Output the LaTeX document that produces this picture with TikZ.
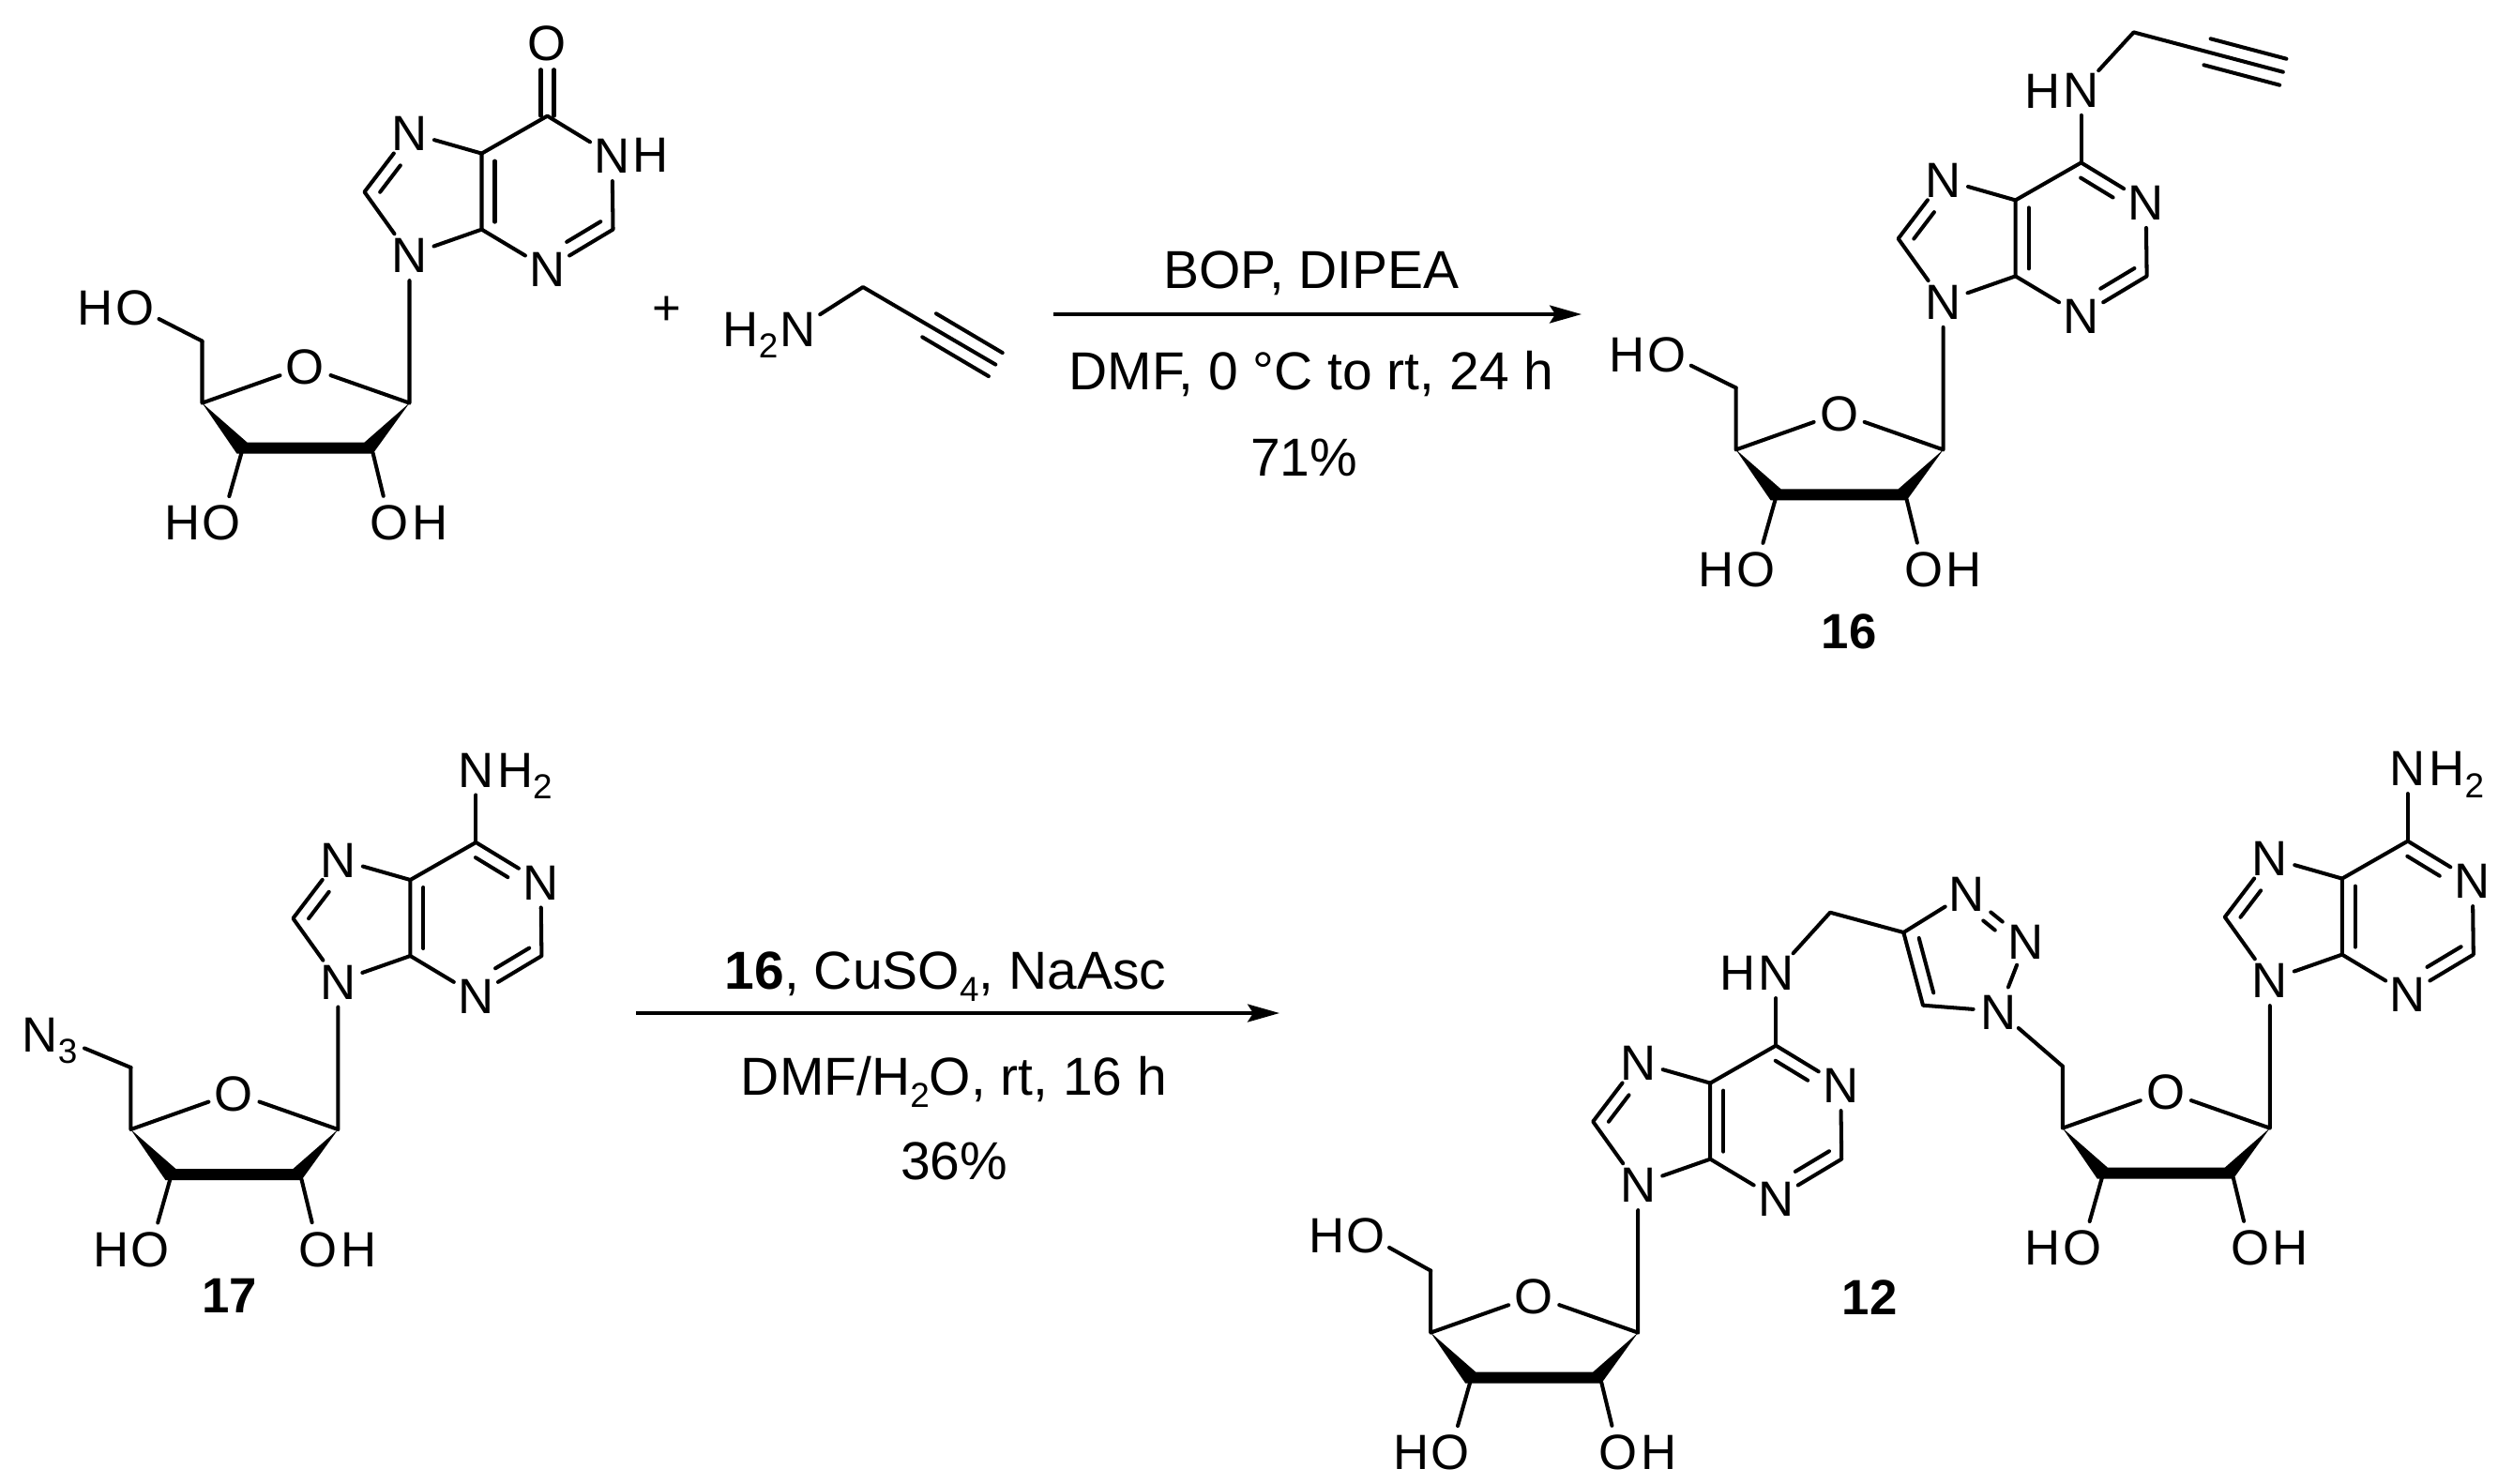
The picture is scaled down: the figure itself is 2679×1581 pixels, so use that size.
\documentclass[tikz,border=0pt]{standalone}
\usepackage{fontspec}
\setmainfont{Liberation Sans}
\usetikzlibrary{arrows.meta}
\newcommand{\sub}[1]{\raisebox{-3.6pt}{\fontsize{10.5}{12}\selectfont #1}}
\newcommand{\adbonds}[1]{
	\draw[dbl={(-7.3,12)},shorten <=.08cm,shorten >=.05cm] (#1-c6) -- (#1-n1);
	\draw[bond] (#1-x6) -- (#1-c6);
}
\tikzset{
	bond/.style={line width=1.15pt,line cap=round,line join=round},
	dbl/.style={bond,transform canvas={shift={#1}}},
	atom/.style={circle,inner sep=0pt,text height=10.8pt,text depth=0pt,font=\fontsize{15}{15}\selectfont},
	txt/.style={inner sep=0pt,text height=10.8pt,text depth=0pt,font=\fontsize{15}{15}\selectfont},
	cond/.style={txt,text height=11.6pt,font=\fontsize{16.2}{16.2}\selectfont},
	rxn/.style={line width=1pt,-{Stealth[length=.34cm,width=.19cm,inset=.06cm]}},
	nucleoside/.pic={
		\node[atom] (-n9) at (0,0) {N};
		\node[atom] (-n7) at (0,-130) {N};
		\node[atom] (-n1) at (216,-106) {N};
		\node[atom] (-n3) at (147,15) {N};
		\node[atom] (-x6) at (147,-226) {\tikzpictext};
		\coordinate (-c4) at (77,-27);
		\coordinate (-c5) at (77,-108);
		\coordinate (-c6) at (147,-148);
		\coordinate (-c8) at (-48,-67);
		\coordinate (-c2) at (217,-27);
		\draw[bond] (-n9) -- (-c4) -- (-c5) -- (-n7) -- (-c8) -- (-n9);
		\draw[bond] (-c5) -- (-c6) -- (-n1) -- (-c2) -- (-n3) -- (-c4);
		\draw[dbl={(14,0)},shorten <=.08cm,shorten >=.08cm] (-c4) -- (-c5);
		\draw[dbl={(10.6,8.1)},shorten <=.1cm,shorten >=.06cm] (-c8) -- (-n7);
		\draw[dbl={(-7.2,-12)},shorten <=.07cm,shorten >=.05cm] (-c2) -- (-n3);
		% sugar
		\node[atom] (-o4) at (-111,119) {O};
		\coordinate (-c1p) at (0,158);
		\coordinate (-c4p) at (-221,158);
		\coordinate (-c5p) at (-221,92);
		\coordinate (-c3p) at (-179,211);
		\coordinate (-c2p) at (-39,211);
		\draw[bond] (-n9) -- (-c1p) -- (-o4) -- (-c4p) -- (-c5p);
		\fill (-c4p) -- (-173,200) -- (-48,200) -- (-c1p) -- (-39,212) -- (-184,212) -- cycle;
		\node[atom] (-o3) at (-200,285) {O};
		\node[atom] (-h3) at (-242,285) {H};
		\node[atom] (-o2) at (-21,285) {O};
		\node[atom] (-h2) at (22,285) {H};
		\draw[bond] (-c3p) -- (-o3);
		\draw[bond] (-c2p) -- (-o2);
	}
}
\begin{document}
\begin{tikzpicture}[x=.01cm,y=-.01cm]
	\useasboundingbox (0,0) rectangle (2679,1581);
	% inosine
	\pic[pic text=O] (ino) at (436.5,271.6) {nucleoside};
	\draw[dbl={(-7,0)}] (ino-x6) -- (ino-c6);
	\draw[dbl={(7,0)}] (ino-x6) -- (ino-c6);
	\node[atom] (inoh) at (694,165) {H};
	\node[atom] (inoo5) at (144,327) {O};
	\node[atom] (inoh5) at (102,327) {H};
	\draw[bond] (ino-c5p) -- (inoo5);

	\node[txt] (plus) at (711,327) {+};

	% propargylamine
	\node[atom] (pan) at (851,350) {N};
	\node[txt,anchor=east] (pah) at (830,350) {H\sub{2}};
	\coordinate (pac) at (920,306);
	\coordinate (pat) at (990.6,346.8);
	\coordinate (pae) at (1061.3,388.6);
	\draw[bond] (pan) -- (pac) -- (pae);
	\draw[dbl={(7.4,-12.5)}] (pat) -- (pae);
	\draw[dbl={(-7.4,12.5)}] (pat) -- (pae);

	\coordinate (ara) at (1123,335);
	\coordinate (arb) at (1686,335);
	\draw[rxn] (ara) -- (arb);
	\node[cond] (bop) at (1398,287) {BOP, DIPEA};
	\node[cond] (dmf) at (1398,395) {DMF, 0 °C to rt, 24 h};
	\node[cond] (yielda) at (1390,487) {71\%};

	% 16
	\pic[pic text=N] (prg) at (2071.6,321.4) {nucleoside};
	\adbonds{prg}
	\node[atom] (prgh) at (2177.6,96.4) {H};
	\coordinate (prgc) at (2274.6,34.4);
	\coordinate (prgt) at (2353,55.3);
	\coordinate (prge) at (2433.8,76.7);
	\draw[bond] (prg-x6) -- (prgc) -- (prge);
	\draw[dbl={(3.6,-14)}] (prgt) -- (prge);
	\draw[dbl={(-3.6,14)}] (prgt) -- (prge);
	\node[atom] (prgo5) at (1777,377) {O};
	\node[atom] (prgh5) at (1735,377) {H};
	\draw[bond] (prg-c5p) -- (prgo5);
	\node[txt,font=\fontsize{15}{15}\selectfont\bfseries] (lbsixteen) at (1971,672) {16};

	% 17
	\pic[pic text=N] (azi) at (360.4,1046) {nucleoside};
	\adbonds{azi}
	\node[txt,anchor=west] (azih) at ([xshift=.22cm]azi-x6.center) {H\sub{2}};
	\node[txt,inner sep=2pt] (azin) at (53,1102) {N\sub{3}};
	\draw[bond] (azi-c5p) -- (azin);
	\node[txt,font=\fontsize{15}{15}\selectfont\bfseries] (lbseventeen) at (245,1380) {17};

	\coordinate (arc) at (678,1080);
	\coordinate (ard) at (1364,1080);
	\draw[rxn] (arc) -- (ard);
	\node[cond] (cuso) at (1008,1034) {\textbf{16}, CuSO\sub{4}, NaAsc};
	\node[cond] (dmfw) at (1017,1147) {DMF/H\sub{2}O, rt, 16 h};
	\node[cond] (yieldb) at (1017,1237) {36\%};

	% 12
	\pic[pic text=N] (lft) at (1746.2,1262.6) {nucleoside};
	\adbonds{lft}
	\node[atom] (lfth) at (1853,1036) {H};
	\node[atom] (lfto5) at (1456,1316) {O};
	\node[atom] (lfth5) at (1415,1316) {H};
	\draw[bond] (lft-c5p) -- (lfto5);

	\pic[pic text=N] (rgt) at (2419.8,1044.6) {nucleoside};
	\adbonds{rgt}
	\node[txt,anchor=west] (rgth) at ([xshift=.22cm]rgt-x6.center) {H\sub{2}};

	% triazole
	\node[atom] (trna) at (2131,1078) {N};
	\node[atom] (trnb) at (2160,1003) {N};
	\node[atom] (trnc) at (2097,952) {N};
	\coordinate (trcd) at (2029.3,994);
	\coordinate (trce) at (2050,1071.7);
	\coordinate (trch) at (1951,972.7);
	\draw[bond] (trna) -- (trnb);
	\draw[bond] (trnc) -- (trcd) -- (trce) -- (trna);
	\draw[dbl={(13.8,-3.7)},shorten <=.1cm,shorten >=.1cm] (trcd) -- (trce);
	\draw[bond,shorten <=.05cm,shorten >=.05cm] (trnb) -- (trnc);
	\draw[dbl={(-8,9)},shorten <=.05cm,shorten >=.05cm] (trnb) -- (trnc);
	\draw[bond] (lft-x6) -- (trch) -- (trcd);
	\draw[bond] (trna) -- (rgt-c5p);
	\node[txt,font=\fontsize{15}{15}\selectfont\bfseries] (lbtwelve) at (1993,1382) {12};
\end{tikzpicture}
\end{document}
